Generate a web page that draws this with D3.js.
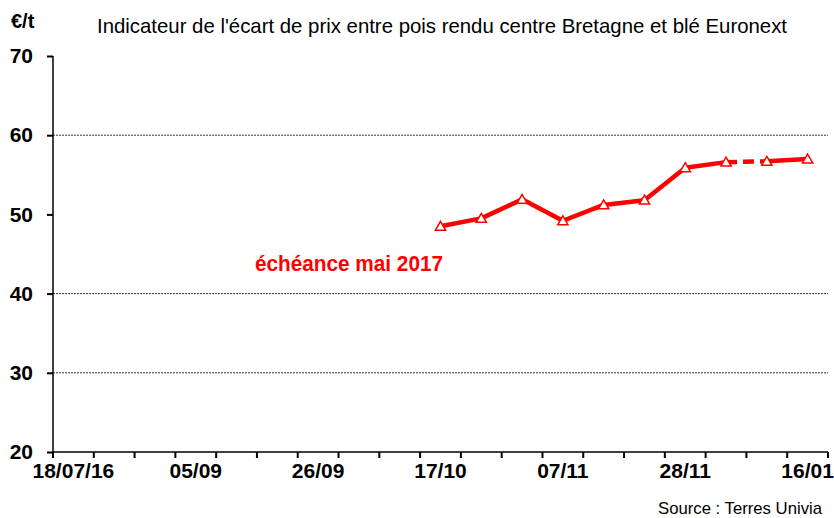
<!DOCTYPE html>
<html>
<head>
<meta charset="utf-8">
<script src="https://cdn.jsdelivr.net/npm/d3@7"></script>
<style>
  body { margin: 0; background: #fff; }
  svg { display: block; font-family: 'Liberation Sans', Arial, sans-serif; }
</style>
</head>
<body>
<div id="chart"></div>
<script>
// categories on the x axis (weekly slots), only some are labelled
const tickLabels = ['18/07/16', '', '', '05/09', '', '', '26/09', '', '', '17/10', '', '', '07/11', '', '', '28/11', '', '', '16/01']
// the series starts at slot 9
const pointSlots = [9, 10, 11, 12, 13, 14, 15, 16, 17, 18]
const pointValues = [48.5, 49.5, 51.9, 49.2, 51.2, 51.8, 55.9, 56.6, 56.7, 57.0]
// the segment from this slot to the next one is dashed
const dashedSlot = 16
const yTicks = [20, 30, 40, 50, 60, 70]
const gridValues = [30, 40, 60]

const dims = {
  width: 834,
  height: 518,
  left: 53,
  right: 828,
  top: 56,
  bottom: 452,
}

const svg = d3.select('#chart').append('svg')
  .attr('width', dims.width)
  .attr('height', dims.height)

const xScale = d3.scaleBand()
  .domain(d3.range(tickLabels.length))
  .range([dims.left, dims.right])
const xCenter = (i) => xScale(i) + xScale.bandwidth() / 2

const yScale = d3.scaleLinear()
  .domain([20, 70])
  .range([dims.bottom, dims.top])

// grid lines
svg.append('g')
  .selectAll('line')
  .data(gridValues)
  .join('line')
  .attr('x1', dims.left)
  .attr('x2', dims.right)
  .attr('y1', (d) => yScale(d))
  .attr('y2', (d) => yScale(d))
  .attr('stroke', '#333')
  .attr('stroke-width', 1)
  .attr('stroke-dasharray', '2,1')

// y axis
const yAxis = d3.axisLeft(yScale).tickValues(yTicks).tickSize(6).tickPadding(14)
svg.append('g')
  .attr('transform', `translate(${dims.left},0)`)
  .call(yAxis)
  .call((g) => g.select('.domain').attr('stroke', '#000').attr('stroke-width', 1.5).attr('d', `M0,${dims.top}V${dims.bottom}`))
  .call((g) => g.selectAll('.tick line').attr('stroke', '#000').attr('stroke-width', 2))
  .call((g) => g.selectAll('.tick text')
    .attr('fill', '#000')
    .attr('font-size', 21)
    .attr('font-weight', 'bold')
    .attr('font-family', "'Liberation Sans', Arial, sans-serif"))

// x axis: ticks on category boundaries
const boundaries = d3.range(tickLabels.length + 1)
const boundaryX = (i) => i < tickLabels.length ? xScale(i) : xScale(i - 1) + xScale.bandwidth()
const xAxisG = svg.append('g')
xAxisG.append('line')
  .attr('x1', dims.left)
  .attr('x2', dims.right)
  .attr('y1', dims.bottom)
  .attr('y2', dims.bottom)
  .attr('stroke', '#000')
  .attr('stroke-width', 1.5)
xAxisG.selectAll('.xtick')
  .data(boundaries)
  .join('line')
  .classed('xtick', true)
  .attr('x1', boundaryX)
  .attr('x2', boundaryX)
  .attr('y1', dims.bottom)
  .attr('y2', dims.bottom + 6)
  .attr('stroke', '#000')
  .attr('stroke-width', 2)
xAxisG.selectAll('.xlabel')
  .data(tickLabels.map((t, i) => ({ t, i })).filter((d) => d.t !== ''))
  .join('text')
  .classed('xlabel', true)
  .attr('x', (d) => xCenter(d.i))
  .attr('y', dims.bottom + 26)
  .attr('text-anchor', 'middle')
  .attr('font-size', 21)
  .attr('font-weight', 'bold')
  .text((d) => d.t)

// the series
const points = pointSlots.map((s, k) => ({ slot: s, value: pointValues[k] }))
const line = d3.line()
  .x((d) => xCenter(d.slot))
  .y((d) => yScale(d.value))

const solidParts = [
  points.filter((d) => d.slot <= dashedSlot),
  points.filter((d) => d.slot >= dashedSlot + 1),
]
svg.append('g')
  .selectAll('path')
  .data(solidParts)
  .join('path')
  .attr('d', line)
  .attr('fill', 'none')
  .attr('stroke', '#ff0000')
  .attr('stroke-width', 4.5)
  .attr('stroke-linejoin', 'round')

svg.append('path')
  .datum(points.filter((d) => d.slot === dashedSlot || d.slot === dashedSlot + 1))
  .attr('d', line)
  .attr('fill', 'none')
  .attr('stroke', '#ff0000')
  .attr('stroke-width', 4.5)
  .attr('stroke-dasharray', '11,6')

const tri = d3.symbol().type(d3.symbolTriangle).size(46)
svg.append('g')
  .selectAll('path')
  .data(points)
  .join('path')
  .attr('d', tri)
  .attr('transform', (d) => `translate(${xCenter(d.slot)},${yScale(d.value) + 1})`)
  .attr('fill', '#fff')
  .attr('stroke', '#ff0000')
  .attr('stroke-width', 1.5)

// texts
svg.append('text')
  .attr('x', 11)
  .attr('y', 28)
  .attr('font-size', 20)
  .attr('font-weight', 'bold')
  .text('€/t')

svg.append('text')
  .attr('x', 97)
  .attr('y', 33)
  .attr('font-size', 21)
  .attr('textLength', 690)
  .attr('lengthAdjust', 'spacingAndGlyphs')
  .text("Indicateur de l'écart de prix entre pois rendu centre Bretagne et blé Euronext")

svg.append('text')
  .attr('x', 255)
  .attr('y', 271)
  .attr('font-size', 22)
  .attr('font-weight', 'bold')
  .attr('fill', '#ff0000')
  .attr('textLength', 188)
  .attr('lengthAdjust', 'spacingAndGlyphs')
  .text('échéance mai 2017')

svg.append('text')
  .attr('x', 822)
  .attr('y', 514)
  .attr('text-anchor', 'end')
  .attr('font-size', 17)
  .attr('textLength', 164)
  .attr('lengthAdjust', 'spacingAndGlyphs')
  .text('Source : Terres Univia')
</script>
</body>
</html>
